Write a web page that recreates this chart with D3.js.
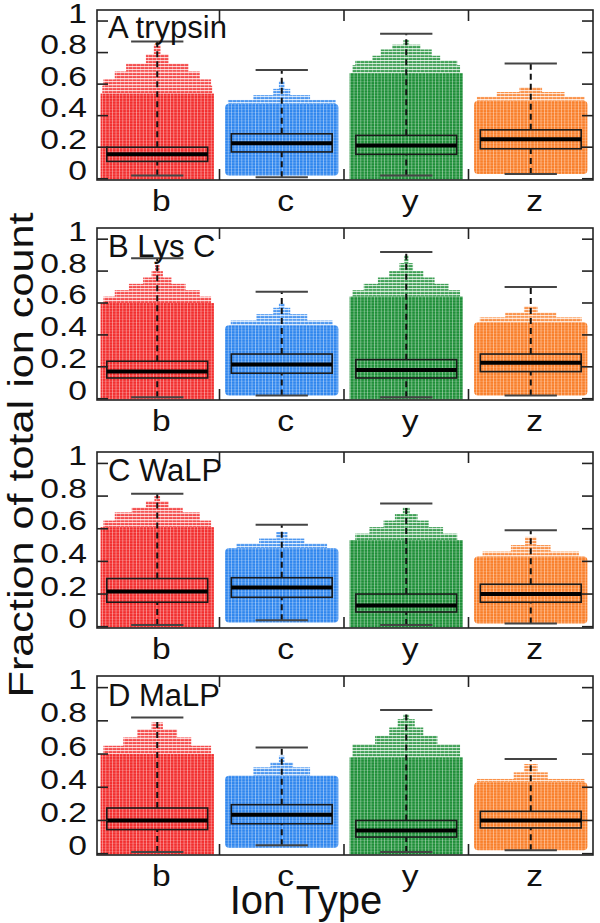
<!DOCTYPE html>
<html><head><meta charset="utf-8">
<script src="https://cdn.jsdelivr.net/npm/d3@7"></script>
<style>html,body{margin:0;padding:0;background:#fff}svg{display:block}text{font-family:"Liberation Sans",Arial,sans-serif;fill:#111}</style>
</head><body><svg id="chart" width="600" height="923"></svg>
<script>
const ionTypes = ["b", "c", "y", "z"];
const panelNames = ["A trypsin", "B Lys C", "C WaLP", "D MaLP"];
const yTicks = [0, 0.2, 0.4, 0.6, 0.8, 1];
const yTickLabels = ["0", "0.2", "0.4", "0.6", "0.8", "1"];
const ionColors = ["#f22e2e", "#2f86ee", "#1e8f38", "#f97f2a"];
const yTitle = "Fraction of total ion count";
const xTitle = "Ion Type";

// box statistics per panel: [low whisker, Q1, median, Q3, high whisker] for b, c, y, z
const statsA = [[0.02, 0.11, 0.155, 0.20, 0.87], [0.01, 0.17, 0.225, 0.285, 0.69], [0.02, 0.155, 0.21, 0.275, 0.92], [0.03, 0.19, 0.25, 0.31, 0.73]];
const statsB = [[0.01, 0.13, 0.17, 0.235, 0.88], [0.02, 0.16, 0.215, 0.28, 0.67], [0.01, 0.13, 0.18, 0.245, 0.92], [0.02, 0.17, 0.225, 0.28, 0.70]];
const statsC = [[0.01, 0.15, 0.215, 0.295, 0.815], [0.04, 0.18, 0.24, 0.30, 0.625], [0.01, 0.09, 0.13, 0.20, 0.755], [0.02, 0.15, 0.20, 0.26, 0.59]];
const statsD = [[0.01, 0.145, 0.20, 0.275, 0.82], [0.05, 0.18, 0.235, 0.295, 0.64], [0.01, 0.10, 0.14, 0.20, 0.865], [0.02, 0.155, 0.20, 0.255, 0.57]];

// dense point cloud per panel: [lowest value, top of the solid block]
const cloudA = [[-0.005, 0.54], [0.02, 0.475], [-0.005, 0.67], [0.03, 0.495]];
const cloudB = [[-0.005, 0.60], [0.02, 0.46], [-0.005, 0.64], [0.02, 0.48]];
const cloudC = [[-0.005, 0.61], [0.025, 0.48], [-0.005, 0.53], [0.02, 0.43]];
const cloudD = [[-0.005, 0.60], [0.035, 0.47], [-0.005, 0.58], [0.02, 0.43]];

// sparse upper rows of points: [row value, fraction of the cloud width]
const tailA = [
  [[0.59, 0.97], [0.63, 0.95], [0.68, 0.75], [0.73, 0.55], [0.79, 0.2], [0.85, 0.06]],
  [[0.50, 0.95], [0.53, 0.5], [0.57, 0.15], [0.62, 0.05]],
  [[0.72, 0.95], [0.75, 0.9], [0.78, 0.6], [0.82, 0.45], [0.85, 0.25], [0.88, 0.05]],
  [[0.52, 0.95], [0.55, 0.6], [0.58, 0.2]]
];
const tailB = [
  [[0.64, 0.95], [0.68, 0.75], [0.72, 0.5], [0.76, 0.25], [0.80, 0.1], [0.84, 0.04]],
  [[0.49, 0.9], [0.53, 0.45], [0.57, 0.15], [0.60, 0.05]],
  [[0.68, 0.95], [0.72, 0.75], [0.76, 0.5], [0.80, 0.3], [0.85, 0.12], [0.90, 0.04]],
  [[0.51, 0.9], [0.54, 0.45], [0.58, 0.12]]
];
const tailC = [
  [[0.65, 0.95], [0.70, 0.75], [0.73, 0.45], [0.77, 0.2], [0.80, 0.05]],
  [[0.51, 0.8], [0.54, 0.4], [0.58, 0.1]],
  [[0.57, 0.9], [0.61, 0.65], [0.65, 0.4], [0.69, 0.2], [0.73, 0.06]],
  [[0.46, 0.85], [0.50, 0.35], [0.55, 0.1]]
];
const tailD = [
  [[0.65, 0.95], [0.70, 0.6], [0.75, 0.35], [0.79, 0.1]],
  [[0.52, 0.5], [0.55, 0.2], [0.59, 0.05]],
  [[0.66, 0.95], [0.71, 0.55], [0.76, 0.3], [0.81, 0.15], [0.84, 0.05]],
  [[0.45, 0.95], [0.49, 0.3], [0.54, 0.12]]
];

const panelStats = [statsA, statsB, statsC, statsD];
const panelClouds = [cloudA, cloudB, cloudC, cloudD];
const panelTails = [tailA, tailB, tailC, tailD];

// layout
const frameLeft = 97, frameRight = 593;
const panelTop = [10, 228, 452, 676];
const panelBottom = [180, 400, 628, 855];
const boxWidth = 0.81, cloudWidth = 0.91, capWidth = 0.42, tickLen = 11;

const svg = d3.select("#chart");
const defs = svg.append("defs");
ionColors.forEach((c, i) => {
  const p = defs.append("pattern").attr("id", "solid" + i).attr("patternUnits", "userSpaceOnUse")
    .attr("width", 3.4).attr("height", 2.8);
  p.append("rect").attr("width", 3.4).attr("height", 2.8).attr("fill", c);
  p.append("rect").attr("x", 0).attr("width", 0.8).attr("height", 2.8).attr("fill", "#fff").attr("opacity", 0.45);
  p.append("rect").attr("y", 0).attr("width", 3.4).attr("height", 0.6).attr("fill", "#fff").attr("opacity", 0.3);
  const q = defs.append("pattern").attr("id", "tail" + i).attr("patternUnits", "userSpaceOnUse")
    .attr("width", 4).attr("height", 3);
  q.append("rect").attr("width", 4).attr("height", 3).attr("fill", c).attr("opacity", 0.85);
  q.append("rect").attr("y", 0).attr("width", 4).attr("height", 1.1).attr("fill", "#fff").attr("opacity", 0.75);
  q.append("rect").attr("x", 0).attr("width", 0.8).attr("height", 3).attr("fill", "#fff").attr("opacity", 0.4);
});

const x = d3.scaleLinear().domain([0.5, 4.5]).range([95, 593]);
const bounds = [1.5, 2.5, 3.5];

panelNames.forEach((name, p) => {
  const y = d3.scaleLinear().domain([-0.008, 1.07]).range([panelBottom[p], panelTop[p]]);
  const g = svg.append("g");
  const stats = panelStats[p], clouds = panelClouds[p], tails = panelTails[p];

  ionTypes.forEach((ion, i) => {
    const cx = x(i + 1);
    const fullW = x(1 + cloudWidth) - x(1);
    let prev = clouds[i][1];
    tails[i].forEach(([v, w]) => {
      g.append("rect").attr("x", cx - fullW * w / 2).attr("width", fullW * w)
        .attr("y", y(v)).attr("height", y(prev) - y(v)).attr("fill", `url(#tail${i})`);
      prev = v;
    });
    g.append("rect").attr("x", cx - fullW / 2).attr("width", fullW)
      .attr("y", y(clouds[i][1])).attr("height", y(clouds[i][0]) - y(clouds[i][1]))
      .attr("rx", clouds[i][0] > 0.01 ? 4 : 0)
      .attr("fill", `url(#solid${i})`);

    const [lo, q1, med, q3, hi] = stats[i];
    const bw = x(1 + boxWidth) - x(1), cw = x(1 + capWidth) - x(1);
    [[lo, q1], [q3, hi]].forEach(([a, b]) => {
      g.append("line").attr("x1", cx).attr("x2", cx).attr("y1", y(a)).attr("y2", y(b))
        .attr("stroke", "#111").attr("stroke-width", 2).attr("stroke-dasharray", "6,4");
    });
    [lo, hi].forEach(v => {
      g.append("line").attr("x1", cx - cw / 2).attr("x2", cx + cw / 2).attr("y1", y(v)).attr("y2", y(v))
        .attr("stroke", "#444").attr("stroke-width", 2);
    });
    g.append("rect").attr("x", cx - bw / 2).attr("width", bw).attr("y", y(q3)).attr("height", y(q1) - y(q3))
      .attr("fill", "none").attr("stroke", "#1a1a1a").attr("stroke-width", 1.6);
    g.append("line").attr("x1", cx - bw / 2).attr("x2", cx + bw / 2).attr("y1", y(med)).attr("y2", y(med))
      .attr("stroke", "#000").attr("stroke-width", 4);
    g.append("text").attr("transform", `translate(${cx + 4},${panelBottom[p] + 31}) scale(1.12,1)`)
      .attr("text-anchor", "middle").attr("font-size", 30).text(ion);
  });

  g.append("rect").attr("x", frameLeft).attr("y", panelTop[p]).attr("width", frameRight - frameLeft)
    .attr("height", panelBottom[p] - panelTop[p]).attr("fill", "none").attr("stroke", "#222").attr("stroke-width", 1.6);
  yTicks.forEach((t, k) => {
    g.append("line").attr("x1", frameLeft).attr("x2", frameLeft + tickLen).attr("y1", y(t)).attr("y2", y(t))
      .attr("stroke", "#222").attr("stroke-width", 1.6);
    g.append("line").attr("x1", frameRight - tickLen).attr("x2", frameRight).attr("y1", y(t)).attr("y2", y(t))
      .attr("stroke", "#222").attr("stroke-width", 1.6);
    g.append("text").attr("transform", `translate(87,${y(t) + 1.5}) scale(1.2,1)`).attr("text-anchor", "end")
      .attr("font-size", 28).text(yTickLabels[k]);
  });
  bounds.forEach(b => {
    g.append("line").attr("x1", x(b)).attr("x2", x(b)).attr("y1", panelTop[p]).attr("y2", panelTop[p] + tickLen)
      .attr("stroke", "#222").attr("stroke-width", 1.6);
    g.append("line").attr("x1", x(b)).attr("x2", x(b)).attr("y1", panelBottom[p] - tickLen).attr("y2", panelBottom[p])
      .attr("stroke", "#222").attr("stroke-width", 1.6);
  });
  g.append("text").attr("x", frameLeft + 11).attr("y", y(0.89)).attr("font-size", 31).text(name);
});

svg.append("text").attr("transform", "translate(33,455) rotate(-90)").attr("text-anchor", "middle")
  .attr("font-size", 35).attr("textLength", 485).attr("lengthAdjust", "spacingAndGlyphs").text(yTitle);
svg.append("text").attr("x", 306).attr("y", 914).attr("text-anchor", "middle")
  .attr("font-size", 40).text(xTitle);
</script></body></html>
